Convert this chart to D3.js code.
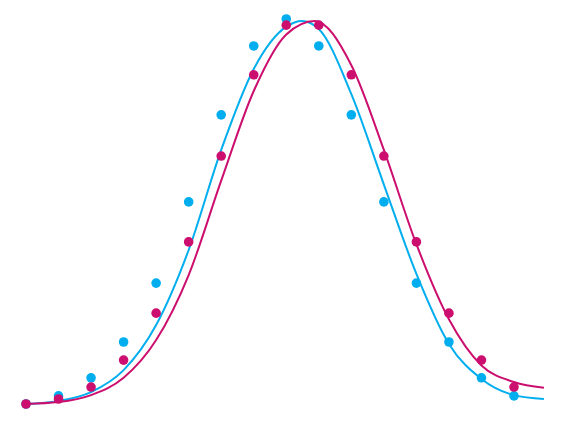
<!DOCTYPE html>
<html><head><meta charset="utf-8">
<script src="https://cdn.jsdelivr.net/npm/d3@7"></script>
<style>body{margin:0;background:#fff}</style>
</head><body>
<svg id="chart" width="571" height="424"></svg>
<script>
// -------------------- DATA -------------------- //
const dotX = d3.range(16);
const blueDots = [0, 2.1, 6.8, 16.1, 31.4, 52.5, 75.1, 93, 100, 93, 75.1, 52.5, 31.4, 16.1, 6.8, 2.1];
const pinkDots = [0, 1.3, 4.4, 11.4, 23.6, 42.1, 64.4, 85.5, 98.4, 98.4, 85.5, 64.4, 42.1, 23.6, 11.4, 4.4];

const blueCurveX = [0, 1, 2, 3, 4, 5, 6, 7, 8, 8.48, 9, 10, 11, 12, 13, 14, 15, 15.92];
const blueCurveY = [0, 0.8, 3.1, 8.8, 20.5, 40, 66, 87, 98, 99.5, 97.4, 80.5, 57, 33.8, 15.6, 6.5, 2.3, 1.3];
const pinkCurveX = [0, 1, 2, 3, 4, 5, 6, 7, 8, 8.88, 10, 11, 12, 13, 14, 15, 15.92];
const pinkCurveY = [0, 0.5, 2.3, 6.8, 16.6, 33.5, 58, 81.3, 96, 99.5, 88, 66, 41.5, 22, 10, 5.7, 4.2];

// -------------------- SCALES -------------------- //
const svg = d3.select("#chart");
const x = d3.scaleLinear().domain([0, 15]).range([26, 514]);
const y = d3.scaleLinear().domain([0, 100]).range([404, 19]);

const line = d3.line().x(d => x(d[0])).y(d => y(d[1])).curve(d3.curveMonotoneX);

function drawSeries(cx, cy, dots, color) {
    svg.append("path")
        .datum(cx.map((v, i) => [v, cy[i]]))
        .attr("d", line)
        .attr("fill", "none")
        .attr("stroke", color)
        .attr("stroke-width", 2);
    svg.append("g").selectAll("circle")
        .data(dots)
        .join("circle")
        .attr("cx", (d, i) => x(dotX[i]))
        .attr("cy", d => y(d))
        .attr("r", 4.8)
        .attr("fill", color);
}

drawSeries(blueCurveX, blueCurveY, blueDots, "#00aeef");
drawSeries(pinkCurveX, pinkCurveY, pinkDots, "#cc0e6e");
</script>
</body></html>
